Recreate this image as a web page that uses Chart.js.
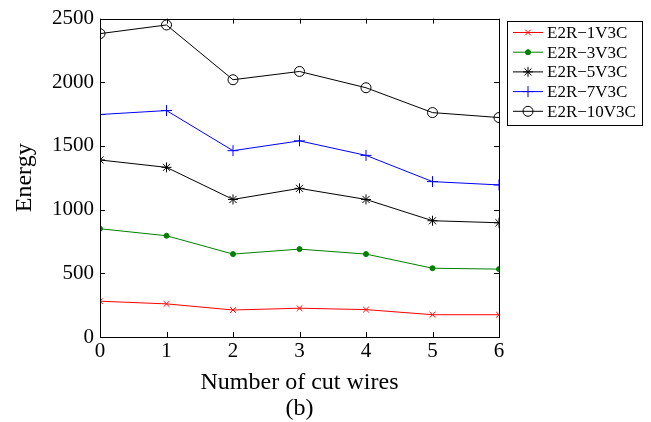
<!DOCTYPE html>
<html>
<head>
<meta charset="utf-8">
<script src="https://cdn.jsdelivr.net/npm/chart.js@4/dist/chart.umd.min.js"></script>
<style>
  html, body { margin: 0; padding: 0; background: #fff; }
  #wrap { width: 651px; height: 422px; position: relative; }
</style>
</head>
<body>
<div id="wrap"><canvas id="energyChart"></canvas></div>
<script>
// cut wires on the x axis
const cutWires = [0, 1, 2, 3, 4, 5, 6];
const yTicks = [0, 500, 1000, 1500, 2000, 2500];

const e1V3C = [281, 260, 212, 226, 215, 175, 175];
const e3V3C = [850, 795, 651, 690, 651, 540, 533];
const e5V3C = [1390, 1332, 1080, 1167, 1080, 913, 897];
const e7V3C = [1747, 1778, 1463, 1540, 1426, 1220, 1194];
const e10V3C = [2382, 2450, 2020, 2085, 1957, 1762, 1723];

const FONT = "'Liberation Serif', 'Times New Roman', serif";

function pts(vals) {
    return vals.map((v, i) => ({ x: cutWires[i], y: v }));
}

function series(label, vals, color, style, radius, fill) {
    return {
        label: label,
        data: pts(vals),
        borderColor: color,
        backgroundColor: fill,
        borderWidth: 1,
        pointStyle: style,
        pointRadius: radius,
        pointBorderColor: color,
        pointBackgroundColor: fill,
        pointBorderWidth: 1,
        tension: 0
    };
}

// MATLAB-ish box with inward ticks + legend box on the right
const boxPlugin = {
    id: 'boxPlugin',
    afterDraw(chart) {
        const { ctx, chartArea: a, scales } = chart;
        ctx.save();
        ctx.strokeStyle = '#000';
        ctx.lineWidth = 1;
        ctx.strokeRect(Math.round(a.left) + 0.5, Math.round(a.top) + 0.5,
            Math.round(a.right - a.left), Math.round(a.bottom - a.top));
        const tl = 5;
        ctx.beginPath();
        cutWires.forEach(v => {
            const x = Math.round(scales.x.getPixelForValue(v)) + 0.5;
            ctx.moveTo(x, a.bottom); ctx.lineTo(x, a.bottom - tl);
            ctx.moveTo(x, a.top); ctx.lineTo(x, a.top + tl);
        });
        yTicks.forEach(v => {
            const y = Math.round(scales.y.getPixelForValue(v)) + 0.5;
            ctx.moveTo(a.left, y); ctx.lineTo(a.left + tl, y);
            ctx.moveTo(a.right, y); ctx.lineTo(a.right - tl, y);
        });
        ctx.stroke();

        // legend
        const lx = 507.5, ly = 21.5, lw = 135, lh = 104;
        ctx.fillStyle = '#fff';
        ctx.fillRect(lx, ly, lw, lh);
        ctx.strokeRect(lx, ly, lw, lh);
        ctx.font = '17px ' + FONT;
        ctx.textBaseline = 'middle';
        chart.data.datasets.forEach((ds, i) => {
            const y = 32.5 + i * 19.7;
            ctx.strokeStyle = ds.borderColor;
            ctx.beginPath();
            ctx.moveTo(513, y); ctx.lineTo(543, y);
            ctx.stroke();
            ctx.fillStyle = ds.pointBackgroundColor;
            ctx.strokeStyle = ds.pointBorderColor;
            Chart.helpers.drawPoint(ctx, {
                pointStyle: ds.pointStyle,
                radius: ds.pointRadius,
                rotation: 0,
                borderWidth: 1
            }, 528, y);
            ctx.fillStyle = '#000';
            ctx.fillText(ds.label, 547, y + 1);
        });
        ctx.restore();
    }
};

new Chart(document.getElementById('energyChart').getContext('2d'), {
    type: 'line',
    data: {
        datasets: [
            series('E2R\u22121V3C', e1V3C, '#ff0000', 'crossRot', 4, '#ff0000'),
            series('E2R\u22123V3C', e3V3C, '#008000', 'circle', 2.5, '#008000'),
            series('E2R\u22125V3C', e5V3C, '#000000', 'star', 5, '#000000'),
            series('E2R\u22127V3C', e7V3C, '#0000ff', 'cross', 5.5, '#0000ff'),
            series('E2R\u221210V3C', e10V3C, '#000000', 'circle', 5, 'rgba(0,0,0,0)')
        ]
    },
    options: {
        responsive: true,
        maintainAspectRatio: false,
        animation: false,
        layout: { padding: { top: 12, right: 152, left: 0, bottom: 0 } },
        plugins: {
            legend: { display: false },
            tooltip: { enabled: false }
        },
        scales: {
            x: {
                type: 'linear',
                min: 0,
                max: 6,
                grid: { display: false, drawTicks: false },
                border: { display: false },
                ticks: {
                    stepSize: 1,
                    color: '#000',
                    padding: 2,
                    font: { family: FONT, size: 21 },
                    callback: v => String(v)
                },
                title: {
                    display: true,
                    text: ['Number of cut wires', '(b)'],
                    color: '#000',
                    padding: { top: 4, bottom: 0 },
                    font: { family: FONT, size: 24, lineHeight: 1.1 }
                },
                afterFit(scale) { scale.height = 85; }
            },
            y: {
                min: 0,
                max: 2500,
                grid: { display: false, drawTicks: false },
                border: { display: false },
                ticks: {
                    stepSize: 500,
                    color: '#000',
                    padding: 6,
                    font: { family: FONT, size: 21 },
                    callback: v => String(v)
                },
                title: {
                    display: true,
                    text: 'Energy',
                    color: '#000',
                    padding: { top: 10, bottom: 0 },
                    font: { family: FONT, size: 24 }
                },
                afterFit(scale) { scale.width = 100; }
            }
        }
    },
    plugins: [boxPlugin]
});
</script>
</body>
</html>
